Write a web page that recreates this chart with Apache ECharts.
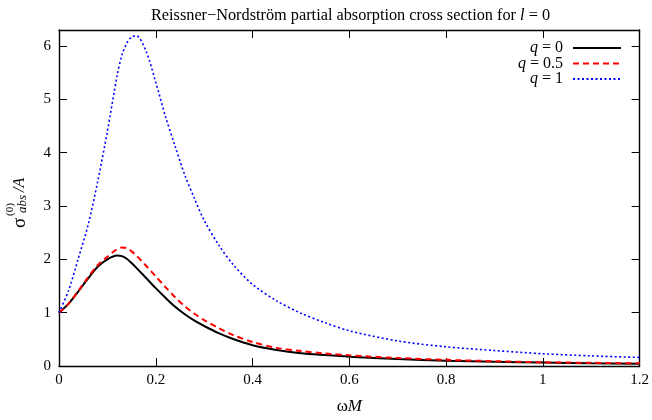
<!DOCTYPE html>
<html>
<head>
<meta charset="utf-8">
<script src="https://cdn.jsdelivr.net/npm/echarts@6/dist/echarts.min.js"></script>
<style>html,body{margin:0;padding:0;background:#fff}#c{width:652px;height:420px}</style>
</head>
<body>
<div id="c"></div>
<script>
var omega = [0, 0.02, 0.04, 0.06, 0.08, 0.10, 0.12, 0.13, 0.14, 0.15, 0.16, 0.18, 0.20, 0.22, 0.24, 0.26, 0.28, 0.30, 0.33, 0.36, 0.40, 0.45, 0.50, 0.55, 0.60, 0.70, 0.80, 0.90, 1.00, 1.10, 1.20];
var sigmaQ0 = [1.0, 1.17, 1.40, 1.64, 1.86, 2.00, 2.07, 2.06, 2.01, 1.93, 1.84, 1.65, 1.46, 1.28, 1.11, 0.97, 0.85, 0.75, 0.615, 0.505, 0.39, 0.30, 0.24, 0.205, 0.175, 0.13, 0.10, 0.08, 0.065, 0.05, 0.04];
var sigmaQ05 = [1.0, 1.17, 1.41, 1.66, 1.89, 2.05, 2.19, 2.22, 2.21, 2.15, 2.07, 1.88, 1.68, 1.48, 1.29, 1.12, 0.98, 0.86, 0.71, 0.58, 0.45, 0.34, 0.28, 0.235, 0.20, 0.15, 0.115, 0.09, 0.07, 0.06, 0.05];
var sigmaQ1 = [1.0, 1.42, 2.02, 2.64, 3.46, 4.40, 5.44, 5.83, 6.05, 6.17, 6.19, 5.90, 5.32, 4.68, 4.12, 3.58, 3.14, 2.73, 2.27, 1.90, 1.53, 1.22, 0.99, 0.81, 0.66, 0.47, 0.36, 0.29, 0.23, 0.19, 0.16];
var seriesNames = ['q = 0', 'q = 0.5', 'q = 1'];
var titleText = 'Reissner\u2212Nordstr\u00f6m partial absorption cross section for ';

function pairs(ys) { return omega.map(function (x, i) { return [x, ys[i]]; }); }

var FONT = 'Liberation Serif';
var chart = echarts.init(document.getElementById('c'), null, { renderer: 'canvas' });

function legendFor(name, idx) {
  return {
    data: [name], right: 30, top: 40 + idx * 15.5, padding: 0,
    itemWidth: 48, itemHeight: 18,
    itemStyle: { opacity: 0 },
    formatter: function (n) { return '{i|q}{n|' + n.slice(1) + '}'; },
    textStyle: {
      fontFamily: FONT, fontSize: 16, color: '#000',
      rich: {
        i: { fontFamily: FONT, fontSize: 16, fontStyle: 'italic', color: '#000' },
        n: { fontFamily: FONT, fontSize: 16, color: '#000', padding: [0, 5, 0, 0] }
      }
    },
    align: 'right', selectedMode: false
  };
}

var tickStyle = { show: true, inside: true, length: 8, lineStyle: { color: '#000', width: 1 } };
var lineStyleAxis = { show: true, onZero: false, lineStyle: { color: '#000', width: 1.4 } };
var labelStyle = { fontFamily: FONT, fontSize: 15, color: '#000' };

var option = {
  backgroundColor: '#fff',
  animation: false,
  title: {
    text: '{n|' + titleText + '}{i|l}{n| = 0}',
    left: 345.5, top: 3, textAlign: 'center',
    textStyle: {
      fontFamily: FONT, fontSize: 16, fontWeight: 'normal', color: '#000',
      rich: {
        n: { fontFamily: FONT, fontSize: 16.3, color: '#000' },
        i: { fontFamily: FONT, fontSize: 16.3, fontStyle: 'italic', color: '#000' }
      }
    }
  },
  legend: seriesNames.map(legendFor),
  grid: { left: 59, right: 11, top: 30, bottom: 52, containLabel: false },
  xAxis: [{
    type: 'value', min: 0, max: 1.2, interval: 0.2, position: 'bottom',
    axisLine: lineStyleAxis, axisTick: tickStyle, splitLine: { show: false },
    axisLabel: Object.assign({ margin: 7 }, labelStyle),
    name: '{g|\u03c9}{i|M}', nameLocation: 'middle', nameGap: 32,
    nameTextStyle: { fontFamily: FONT, fontSize: 17, color: '#000',
      rich: { g: { fontFamily: FONT, fontSize: 17, color: '#000' }, i: { fontFamily: FONT, fontSize: 17, fontStyle: 'italic', color: '#000' } } }
  }, {
    type: 'value', min: 0, max: 1.2, interval: 0.2, position: 'top',
    axisLine: lineStyleAxis, axisTick: tickStyle, splitLine: { show: false },
    axisLabel: { show: false }
  }],
  yAxis: [{
    type: 'value', min: 0, max: 6.3, interval: 1, position: 'left',
    axisLine: lineStyleAxis, axisTick: tickStyle, splitLine: { show: false },
    axisLabel: Object.assign({ margin: 8, formatter: function (v) { return Math.abs(v - Math.round(v)) < 1e-9 ? String(Math.round(v)) : ''; } }, labelStyle)
  }, {
    type: 'value', min: 0, max: 6.3, interval: 1, position: 'right',
    axisLine: lineStyleAxis, axisTick: tickStyle, splitLine: { show: false },
    axisLabel: { show: false }
  }],
  series: [{
    name: seriesNames[0], type: 'line', data: pairs(sigmaQ0), showSymbol: false, symbol: 'none', smooth: 0.3,
    lineStyle: { color: '#000', width: 2, type: 'solid' }, itemStyle: { color: '#000' }
  }, {
    name: seriesNames[1], type: 'line', data: pairs(sigmaQ05), showSymbol: false, symbol: 'none', smooth: 0.3,
    lineStyle: { color: '#ff0000', width: 2, type: [6, 4] }, itemStyle: { color: '#ff0000' }
  }, {
    name: seriesNames[2], type: 'line', data: pairs(sigmaQ1), showSymbol: false, symbol: 'none', smooth: 0.3,
    lineStyle: { color: '#0000ff', width: 1.6, type: [2, 2.5] }, itemStyle: { color: '#0000ff' }
  }],
  graphic: [{
    type: 'group', x: 20, y: 202, rotation: Math.PI / 2,
    children: [
      { type: 'text', x: -26, y: 0, style: { text: '\u03c3', fontFamily: FONT, fontSize: 19, fill: '#000', verticalAlign: 'middle', align: 'left' } },
      { type: 'text', x: -14, y: -10, style: { text: '(0)', fontFamily: FONT, fontSize: 11, fill: '#000', verticalAlign: 'middle', align: 'left' } },
      { type: 'text', x: -11, y: 3, style: { text: 'abs', fontFamily: FONT, fontSize: 13, fontStyle: 'italic', fill: '#000', verticalAlign: 'middle', align: 'left' } },
      { type: 'text', x: 10, y: 0, style: { text: '/A', fontFamily: FONT, fontSize: 16, fontStyle: 'italic', fill: '#000', verticalAlign: 'middle', align: 'left' } }
    ]
  }]
};
chart.setOption(option);
</script>
</body>
</html>
